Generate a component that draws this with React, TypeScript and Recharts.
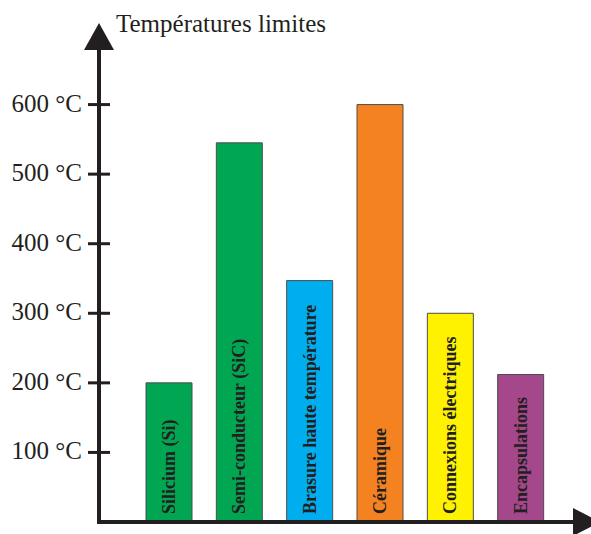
import { Bar, BarChart, Cell, LabelList, XAxis, YAxis } from "recharts";

document.body.style.margin = "0";

const categories = [
  "Silicium (Si)",
  "Semi-conducteur (SiC)",
  "Brasure haute température",
  "Céramique",
  "Connexions électriques",
  "Encapsulations",
];
const temperatures = [200, 545, 347, 600, 300, 212];
const barColors = ["#00A651", "#00A651", "#00AEEF", "#F58220", "#FFF200", "#A4478B"];
const yTicks = [100, 200, 300, 400, 500, 600];
const title = "Températures limites";

const ink = "#231F20";
const serif = '"Liberation Serif", "Times New Roman", serif';

const data = categories.map((name, i) => ({ name, value: temperatures[i] }));

function YTick(props: any) {
  const { x, y, payload } = props;
  return (
    <g>
      <line x1={x - 11} x2={x + 11} y1={y} y2={y} stroke={ink} strokeWidth={3} />
      <text x={x - 17} y={y} dy={7} textAnchor="end" fontSize={25} fontFamily={serif} fill={ink}>
        {`${payload.value} °C`}
      </text>
    </g>
  );
}

// arrow head on top of the y axis + the axis title next to it
function YArrow(props: any) {
  const vb = props.viewBox ?? { x: 0, y: 35, width: 99, height: 487 };
  const ax = vb.x + vb.width;
  const top = vb.y;
  return (
    <g>
      <polygon points={`${ax},${top - 12} ${ax - 15},${top + 15} ${ax + 15},${top + 15}`} fill={ink} />
      <text x={ax + 17} y={top - 3} fontSize={25} fontFamily={serif} fill={ink}>
        {title}
      </text>
    </g>
  );
}

function XArrow(props: any) {
  const vb = props.viewBox ?? { x: 99, y: 522, width: 481, height: 12 };
  const end = vb.x + vb.width;
  const y = vb.y;
  return <polygon points={`${end - 7},${y - 14} ${end + 20},${y} ${end - 7},${y + 14}`} fill={ink} />;
}

function BarLabel(props: any) {
  const { x, y, width, height, value } = props;
  const cx = x + width / 2 + 6;
  const by = y + height - 8;
  return (
    <text
      x={cx}
      y={by}
      transform={`rotate(-90 ${cx} ${by})`}
      fontSize={18}
      fontWeight="bold"
      fontFamily={serif}
      fill={ink}
    >
      {value}
    </text>
  );
}

export default function App() {
  return (
    <div style={{ width: 591, height: 534, background: "#fff" }}>
      <BarChart width={591} height={534} data={data} margin={{ top: 35, right: 11, bottom: 0, left: 0 }}>
        <XAxis
          dataKey="name"
          type="category"
          tick={false}
          tickLine={false}
          height={12}
          padding={{ left: 35, right: 24 }}
          axisLine={{ stroke: ink, strokeWidth: 4, strokeLinecap: "square" }}
          label={{ content: XArrow }}
        />
        <YAxis
          type="number"
          domain={[0, 700]}
          ticks={yTicks}
          interval={0}
          width={99}
          tickSize={0}
          tickMargin={0}
          tickLine={false}
          tick={YTick}
          axisLine={{ stroke: ink, strokeWidth: 4, strokeLinecap: "square" }}
          label={{ content: YArrow }}
        />
        <Bar dataKey="value" barSize={46} isAnimationActive={false}>
          {data.map((d, i) => (
            <Cell key={d.name} fill={barColors[i]} stroke="#4D4D4D" strokeWidth={1} />
          ))}
          <LabelList dataKey="name" content={BarLabel} />
        </Bar>
      </BarChart>
    </div>
  );
}
